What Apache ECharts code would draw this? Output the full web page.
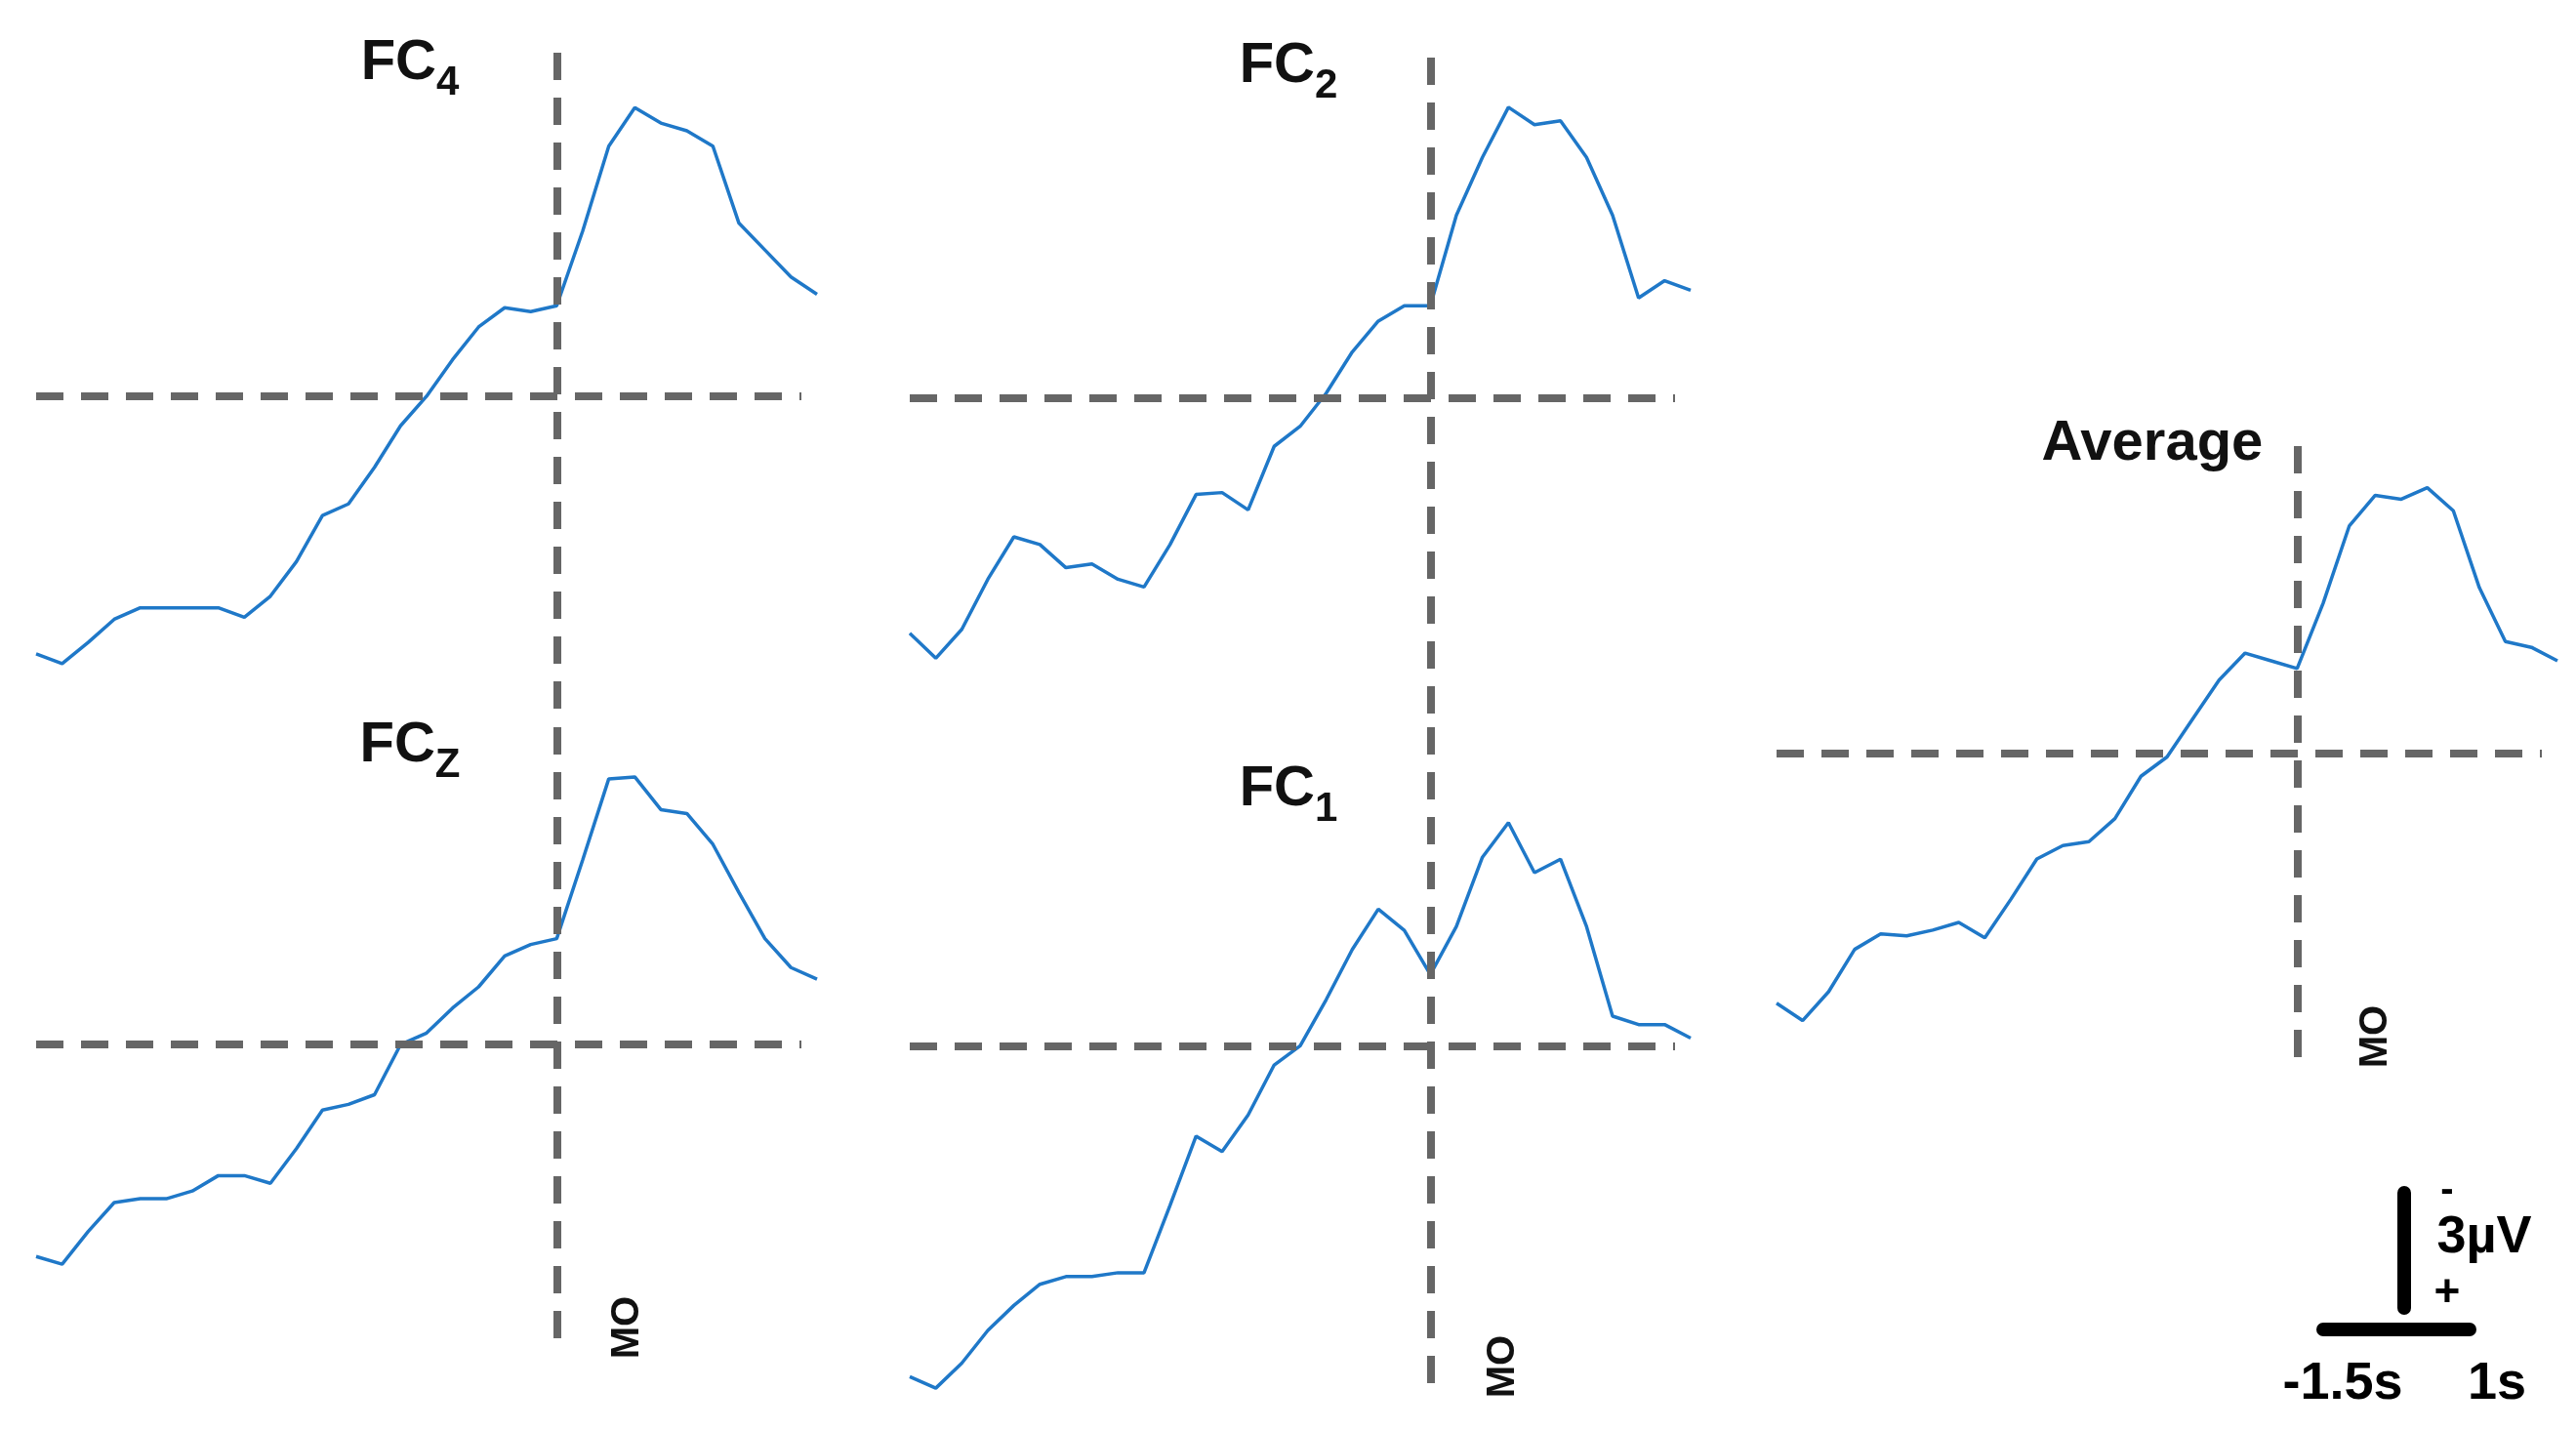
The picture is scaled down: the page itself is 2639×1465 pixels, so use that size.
<!DOCTYPE html>
<html>
<head>
<meta charset="utf-8">
<script src="https://cdn.jsdelivr.net/npm/echarts@6/dist/echarts.min.js"></script>
<style>
html, body { margin: 0; padding: 0; background: #fff; }
#chart { width: 2639px; height: 1465px; }
</style>
</head>
<body>
<div id="chart"></div>
<script>
// time axis, seconds relative to movement onset (MO)
var times = [];
for (var i = 0; i <= 30; i++) times.push(Math.round((-2 + i * 0.1) * 10) / 10);

// amplitudes in µV (negative plotted upward)
var fc4 = [6.7, 6.95, 6.4, 5.8, 5.5, 5.5, 5.5, 5.5, 5.75, 5.2, 4.3, 3.1, 2.8, 1.85, 0.77, 0,
    -0.95, -1.8, -2.3, -2.2, -2.35, -4.3, -6.5, -7.5, -7.1, -6.9, -6.5, -4.5, -3.8, -3.1, -2.65];
var fcz = [5.5, 5.7, 4.85, 4.1, 4.0, 4.0, 3.8, 3.4, 3.4, 3.6, 2.7, 1.7, 1.55, 1.3, 0, -0.3,
    -0.95, -1.5, -2.3, -2.6, -2.75, -4.8, -6.9, -6.95, -6.1, -6.0, -5.2, -3.95, -2.75, -2.0, -1.7];
var fc2 = [6.1, 6.75, 6.0, 4.7, 3.6, 3.8, 4.4, 4.3, 4.7, 4.9, 3.8, 2.5, 2.45, 2.9, 1.25, 0.73,
    -0.13, -1.2, -2.0, -2.4, -2.4, -4.75, -6.25, -7.55, -7.1, -7.2, -6.25, -4.75, -2.6, -3.05, -2.8];
var fc1 = [8.6, 8.9, 8.25, 7.4, 6.75, 6.2, 6.0, 6.0, 5.9, 5.9, 4.15, 2.35, 2.75, 1.8, 0.5, 0,
    -1.2, -2.5, -3.55, -3.0, -1.85, -3.1, -4.9, -5.8, -4.5, -4.85, -3.1, -0.77, -0.55, -0.55, -0.2];
var avg = [6.5, 6.95, 6.2, 5.1, 4.7, 4.75, 4.6, 4.4, 4.8, 3.8, 2.75, 2.4, 2.3, 1.7, 0.6, 0.1,
    -0.9, -1.9, -2.6, -2.4, -2.2, -3.9, -5.9, -6.7, -6.6, -6.9, -6.3, -4.3, -2.9, -2.75, -2.4];

var panels = [
    { name: 'FC', sub: '4', data: fc4, left: 37, top: 54, height: 690, ymin: -8.93, ymax: 8.58, tx: 415, ty: 51 },
    { name: 'FC', sub: 'Z', data: fcz, left: 37, top: 745, height: 635, ymin: -8.24, ymax: 7.85, tx: 415, ty: 750 },
    { name: 'FC', sub: '2', data: fc2, left: 932, top: 59, height: 686, ymin: -8.84, ymax: 8.54, tx: 1315, ty: 54 },
    { name: 'FC', sub: '1', data: fc1, left: 932, top: 745, height: 685, ymin: -8.28, ymax: 9.1, tx: 1315, ty: 795 },
    { name: 'Average', sub: '', data: avg, left: 1820, top: 457, height: 626, ymin: -7.98, ymax: 7.9, tx: 2200, ty: 453 }
];

var grids = [], xAxes = [], yAxes = [], series = [], titles = [];
panels.forEach(function (p, k) {
    grids.push({ left: p.left, top: p.top, width: 800, height: p.height });
    xAxes.push({ type: 'value', gridIndex: k, min: -2, max: 1, show: false });
    yAxes.push({ type: 'value', gridIndex: k, min: p.ymin, max: p.ymax, inverse: true, show: false });
    series.push({
        type: 'line', xAxisIndex: k, yAxisIndex: k, showSymbol: false,
        data: times.map(function (t, i) { return [t, p.data[i]]; }),
        lineStyle: { color: '#1f78c8', width: 3.5 },
        markLine: {
            silent: true, symbol: 'none', label: { show: false },
            lineStyle: { color: '#666', width: 8, type: [28, 18] },
            data: [{ xAxis: 0 }, [{ coord: [-2, 0] }, { coord: [0.94, 0] }]]
        }
    });
    titles.push({
        text: p.name + (p.sub ? '{s|' + p.sub + '}' : ''),
        left: p.tx, top: p.ty - 32, textAlign: 'center',
        textStyle: {
            fontFamily: 'Liberation Sans', fontWeight: 'bold', fontSize: 58, color: '#111',
            rich: { s: { fontFamily: 'Liberation Sans', fontWeight: 'bold', fontSize: 42, color: '#111', verticalAlign: 'bottom', padding: [40, 0, 0, 0] } }
        }
    });
});

function moLabel(x, y) {
    return { type: 'text', x: x, y: y, rotation: Math.PI / 2,
        style: { text: 'MO', font: 'bold 40px "Liberation Sans"', fill: '#111', textAlign: 'center', textVerticalAlign: 'middle' } };
}

var chart = echarts.init(document.getElementById('chart'));
chart.setOption({
    animation: false,
    title: titles,
    grid: grids,
    xAxis: xAxes,
    yAxis: yAxes,
    series: series,
    graphic: [
        moLabel(643, 1360), moLabel(1540, 1400), moLabel(2434, 1062),
        { type: 'line', shape: { x1: 2463, y1: 1222, x2: 2463, y2: 1340 }, style: { stroke: '#000', lineWidth: 14, lineCap: 'round' } },
        { type: 'line', shape: { x1: 2380, y1: 1362, x2: 2530, y2: 1362 }, style: { stroke: '#000', lineWidth: 14, lineCap: 'round' } },
        { type: 'text', x: 2507, y: 1220, style: { text: '-', font: 'bold 40px "Liberation Sans"', fill: '#000', textAlign: 'center', textVerticalAlign: 'middle' } },
        { type: 'text', x: 2545, y: 1268, style: { text: '3µV', font: 'bold 54px "Liberation Sans"', fill: '#000', textAlign: 'center', textVerticalAlign: 'middle' } },
        { type: 'text', x: 2507, y: 1325, style: { text: '+', font: 'bold 46px "Liberation Sans"', fill: '#000', textAlign: 'center', textVerticalAlign: 'middle' } },
        { type: 'text', x: 2400, y: 1418, style: { text: '-1.5s', font: 'bold 54px "Liberation Sans"', fill: '#000', textAlign: 'center', textVerticalAlign: 'middle' } },
        { type: 'text', x: 2558, y: 1418, style: { text: '1s', font: 'bold 54px "Liberation Sans"', fill: '#000', textAlign: 'center', textVerticalAlign: 'middle' } }
    ]
});
</script>
</body>
</html>
